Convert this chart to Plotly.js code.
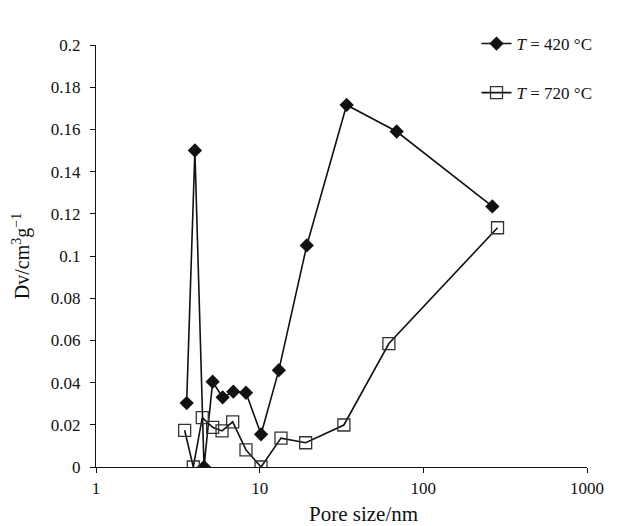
<!DOCTYPE html>
<html>
<head>
<meta charset="utf-8">
<script src="https://cdn.plot.ly/plotly-3.0.1.min.js"></script>
<style>html,body{margin:0;padding:0;background:#fff;}#chart{width:622px;height:526px;}</style>
</head>
<body>
<div id="chart"></div>
<script>
var poreSize420 = [3.58, 4.02, 4.57, 5.16, 5.94, 6.9, 8.25, 10.2, 13.1, 19.4, 34.0, 68.7, 264];
var dv420 = [0.0303, 0.150, 0, 0.0404, 0.033, 0.0357, 0.0352, 0.0155, 0.0459, 0.105, 0.1716, 0.159, 0.1235];
var poreSize720 = [3.48, 3.93, 4.46, 5.16, 5.89, 6.84, 8.25, 10.2, 13.5, 19.1, 32.7, 61.6, 284];
var dv720 = [0.0174, 0, 0.0234, 0.0188, 0.0171, 0.0214, 0.0081, 0, 0.0137, 0.0115, 0.0199, 0.0585, 0.1134];
var xTickVals = [1, 10, 100, 1000];
var xTickText = ['1', '10', '100', '1000'];
var yTickVals = [0, 0.02, 0.04, 0.06, 0.08, 0.1, 0.12, 0.14, 0.16, 0.18, 0.2];
var yTickText = ['0', '0.02', '0.04', '0.06', '0.08', '0.1', '0.12', '0.14', '0.16', '0.18', '0.2'];
var seriesNames = ['<i>T</i> = 420 °C', '<i>T</i> = 720 °C'];
var xTitle = 'Pore size/nm';
var yTitle = 'Dv/cm<sup>3</sup>g<sup>−1</sup>';

var font = 'Liberation Serif, Times New Roman, serif';
var traces = [
  {x: poreSize420, y: dv420, mode: 'lines+markers', name: seriesNames[0], legendgroup: 'a',
   line: {color: '#111', width: 1.6},
   marker: {symbol: 'diamond', size: 11, color: '#111', line: {width: 0}}},
  {x: poreSize720, y: dv720, mode: 'lines+markers', name: seriesNames[1], legendgroup: 'b',
   line: {color: '#111', width: 1.6},
   marker: {symbol: 'square-open', size: 12, color: '#333', line: {width: 1.3}}}
];
var layout = {
  width: 622, height: 526,
  margin: {l: 96, r: 35, t: 45, b: 59},
  paper_bgcolor: '#fff', plot_bgcolor: '#fff',
  font: {family: font, size: 17, color: '#111'},
  showlegend: true,
  legend: {x: 0.775, y: 1.045, xanchor: 'left', yanchor: 'top', bgcolor: 'rgba(0,0,0,0)',
           font: {family: font, size: 17, color: '#111'}, tracegroupgap: 24, traceorder: 'grouped'},
  xaxis: {type: 'log', range: [0, 3], tickmode: 'array', tickvals: xTickVals, ticktext: xTickText,
          showgrid: false, zeroline: false, showline: true, linecolor: '#111', linewidth: 1.2,
          ticks: 'outside', ticklen: 5, tickcolor: '#111', tickfont: {family: font, size: 17}},
  yaxis: {range: [0, 0.2], tickmode: 'array', tickvals: yTickVals, ticktext: yTickText,
          showgrid: false, zeroline: false, showline: true, linecolor: '#111', linewidth: 1.2,
          ticks: 'outside', ticklen: 5, tickcolor: '#111', tickfont: {family: font, size: 17},
          ticklabelstandoff: 6,
          title: {text: yTitle, font: {family: font, size: 20}, standoff: 15}},
  annotations: [
    {text: xTitle, xref: 'paper', yref: 'paper', x: 0.544, y: -0.111, xanchor: 'center', yanchor: 'middle',
     showarrow: false, font: {family: font, size: 21, color: '#111'}}
  ]
};
Plotly.newPlot('chart', traces, layout, {displayModeBar: false, staticPlot: true});
</script>
</body>
</html>
